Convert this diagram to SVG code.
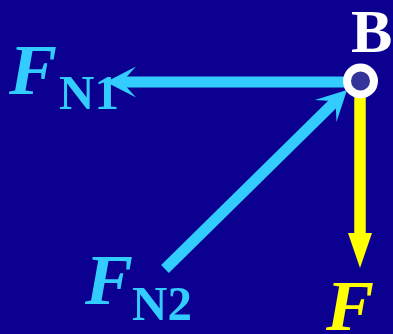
<svg xmlns="http://www.w3.org/2000/svg" width="393" height="334" viewBox="0 0 393 334">
  <defs>
    <style>
      .lbl { font-family: "Liberation Serif", "Times New Roman", serif; }
      .fi { font-weight: bold; font-style: italic; font-size: 72px; }
      .sub { font-size: 49px; font-weight: bold; }
      .cyan { fill: #33CCFF; }
      .shaft { stroke: #33CCFF; stroke-width: 11; fill: none; }
    </style>
    <marker id="stealth" markerUnits="userSpaceOnUse" markerWidth="40" markerHeight="40" refX="0" refY="0" viewBox="-20 -20 40 40" orient="auto" overflow="visible">
      <path d="M16,0 L-14,-15.5 L0,0 L-14,15.5 Z" fill="#33CCFF"/>
    </marker>
  </defs>
  <rect x="0" y="0" width="393" height="334" fill="#0B0090"/>

  <g id="label-FN1" class="lbl cyan">
    <text class="fi" x="9" y="94">F</text>
    <text class="sub" x="59" y="109">N1</text>
  </g>

  <g id="label-FN2" class="lbl cyan">
    <text class="fi" x="85" y="304">F</text>
    <text class="sub" x="132" y="320">N2</text>
  </g>

  <g id="label-F" class="lbl">
    <text class="fi" x="326" y="330" fill="#FFFF00">F</text>
  </g>

  <g id="connectors">
    <line id="fn1-arrow" class="shaft" x1="350" y1="82" x2="122" y2="82" marker-end="url(#stealth)"/>
    <line id="fn2-arrow" class="shaft" x1="165" y1="269" x2="335.6" y2="101.2" marker-end="url(#stealth)"/>
    <line id="f-shaft" x1="360" y1="95" x2="360" y2="234" stroke="#FFFF00" stroke-width="11.5"/>
    <polygon id="f-head" points="348,233 372,233 360,268" fill="#FFFF00"/>
  </g>

  <g id="node-B">
    <circle cx="360.5" cy="81" r="13.5" fill="#333399" stroke="#FFFFFF" stroke-width="8"/>
    <text class="lbl" x="351" y="52" font-size="62" font-weight="bold" fill="#FFFFFF">B</text>
  </g>
</svg>
